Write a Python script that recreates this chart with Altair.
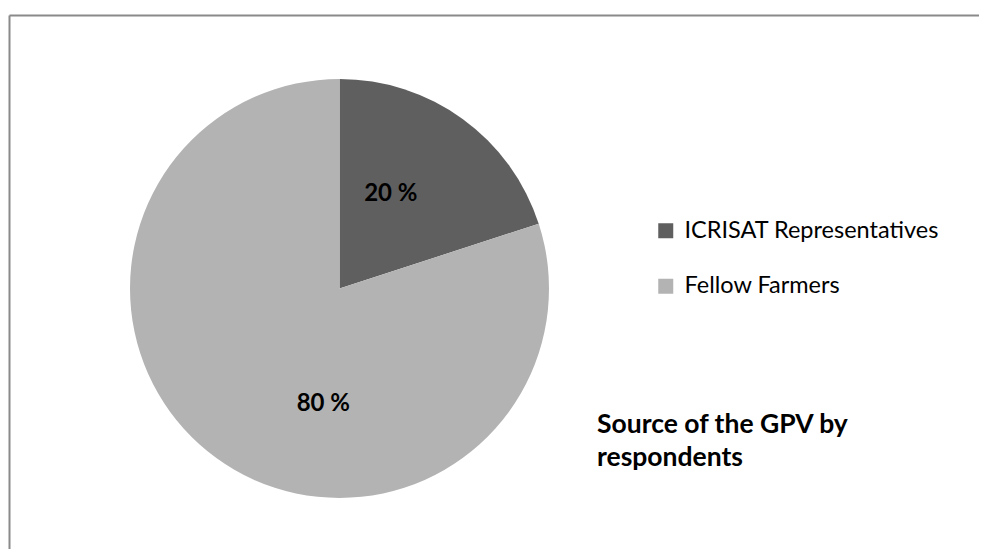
import altair as alt
import pandas as pd

categories = ["ICRISAT Representatives", "Fellow Farmers"]
values = [20, 80]
colors = ["#5f5f5f", "#b3b3b3"]
title_lines = ["Source of the GPV by", "respondents"]

df = pd.DataFrame({
    "category": categories,
    "value": values,
    "order": list(range(len(categories))),
    "label": [f"{v} %" for v in values],
})

W, H = 971, 541
CX, CY, R = 331.5, 280.5, 209.5
FONT = "Lato"

theta_scale = alt.Scale(domain=[0, 100])
color_scale = alt.Scale(domain=categories, range=colors)

base = alt.Chart(df)

arc = base.mark_arc(radius=R, stroke=None).encode(
    theta=alt.Theta("value:Q", stack=True, scale=theta_scale),
    order=alt.Order("order:Q"),
    color=alt.Color(
        "category:N",
        scale=color_scale,
        sort=categories,
        legend=alt.Legend(
            title=None,
            orient="none",
            legendX=646,
            legendY=211,
            padding=0,
            symbolType="square",
            symbolSize=225,
            symbolStrokeWidth=0,
            labelFont=FONT,
            labelFontSize=23.5,
            labelColor="#000000",
            labelOffset=7,
            rowPadding=30.5,
            labelLimit=400,
        ),
    ),
    x=alt.value(CX),
    y=alt.value(CY),
)

stacked = base.transform_stack(
    stack="value", groupby=[], as_=["v0", "v1"], sort=[alt.SortField("order")]
).transform_calculate(mid="(datum.v0 + datum.v1) / 2")

def label_layer(cat, radius, dx, dy):
    return stacked.transform_filter(alt.datum.category == cat).mark_text(
        radius=radius, dx=dx, dy=dy, font=FONT, fontSize=24, fontWeight="bold",
        color="#000000", align="center", baseline="middle",
    ).encode(
        theta=alt.Theta("mid:Q", scale=theta_scale),
        text="label:N",
        x=alt.value(CX),
        y=alt.value(CY),
    )

lab1 = label_layer(categories[0], 106, -11, -9)
lab2 = label_layer(categories[1], 116, 52, 22)

title = alt.Chart(alt.Data(values=[{"t": title_lines}])).mark_text(
    font=FONT, fontSize=26.5, fontWeight="bold", align="left", baseline="alphabetic",
    lineHeight=33, color="#000000",
).encode(
    text="t:N",
    x=alt.value(589),
    y=alt.value(425),
)

border_top = alt.Chart(alt.Data(values=[{}])).mark_rule(
    color="#8a8a8a", strokeWidth=2
).encode(x=alt.value(1.5), x2=alt.value(W + 8), y=alt.value(7.5))
border_left = alt.Chart(alt.Data(values=[{}])).mark_rule(
    color="#8a8a8a", strokeWidth=2
).encode(x=alt.value(1.5), y=alt.value(7.5), y2=alt.value(H + 8))

chart = alt.layer(border_top, border_left, arc, lab1, lab2, title).properties(
    width=W, height=H, padding=0, autosize=alt.AutoSizeParams(type="none"),
    background="#ffffff",
).configure_view(stroke=None)

chart.save("out.html", embed_options={"renderer": "svg", "actions": False})
